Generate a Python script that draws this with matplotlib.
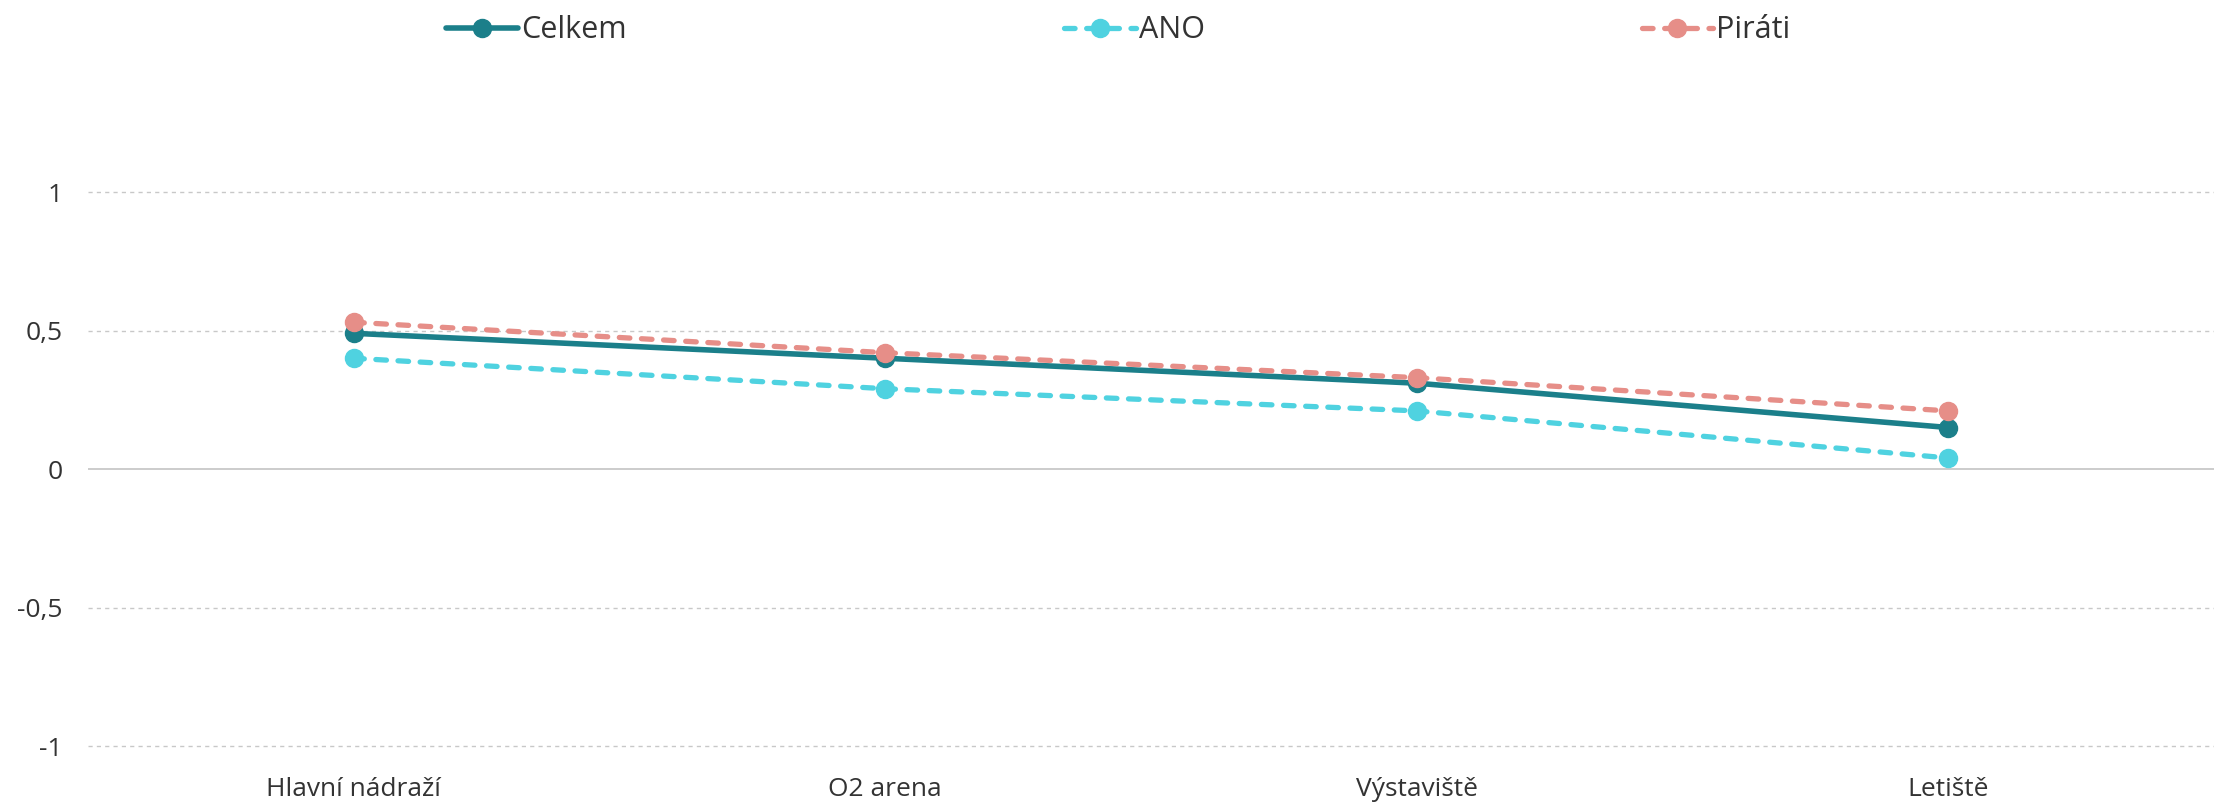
import matplotlib
matplotlib.use("Agg")
import matplotlib.pyplot as plt
import numpy as np

# ----------------------------------------------------------------------
# Data
# ----------------------------------------------------------------------
categories = ["Hlavní nádraží", "O2 arena", "Výstaviště", "Letiště"]
celkem = [0.49, 0.40, 0.31, 0.15]
ano = [0.40, 0.29, 0.21, 0.04]
pirati = [0.53, 0.42, 0.33, 0.21]
yticks = [-1, -0.5, 0, 0.5, 1]
ytick_labels = ["-1", "-0,5", "0", "0,5", "1"]

plt.rcParams["font.family"] = ["Open Sans", "DejaVu Sans"]

C_CELKEM = "#1b7f8a"
C_ANO = "#4fd2e0"
C_PIRATI = "#e68e88"
TEXT = "#333333"

fig = plt.figure(figsize=(22.14, 8.08), dpi=100)
ax = fig.add_axes([88 / 2214, 48 / 808, 1 - 88 / 2214, 650 / 808])

x = np.arange(len(categories))
dash = (2.0, 2.2)
ax.plot(x, celkem, color=C_CELKEM, lw=4.0, marker="o", ms=13,
        solid_capstyle="round", label="Celkem", zorder=3)
ax.plot(x, ano, color=C_ANO, lw=3.8, marker="o", ms=13, dashes=dash,
        dash_capstyle="round", label="ANO", zorder=4)
ax.plot(x, pirati, color=C_PIRATI, lw=3.8, marker="o", ms=13, dashes=dash,
        dash_capstyle="round", label="Piráti", zorder=5)

# gridlines: dashed, except the solid zero line
for v in yticks:
    if v == 0:
        ax.axhline(v, color="#c8c8c8", lw=1.3, zorder=1)
    else:
        ax.axhline(v, color="#c8c8c8", lw=1.0, ls=(0, (3, 3)), zorder=1)

ax.set_xlim(-0.5, len(categories) - 0.5)
ax.set_ylim(-1.05, 1.296)
ax.set_yticks(yticks)
ax.set_yticklabels(ytick_labels)
ax.set_xticks(x)
ax.set_xticklabels(categories)
ax.tick_params(axis="both", length=0, labelsize=19, colors=TEXT)
ax.tick_params(axis="y", pad=18)
ax.tick_params(axis="x", pad=12)
for s in ax.spines.values():
    s.set_visible(False)

fig.legend(loc="upper left", bbox_to_anchor=(431 / 2214, 1.0), ncol=3,
           frameon=False, fontsize=22, handlelength=2.35, handletextpad=0.1,
           columnspacing=14.3, labelcolor=TEXT, borderaxespad=0.1)

fig.savefig("out.png", dpi=100)
